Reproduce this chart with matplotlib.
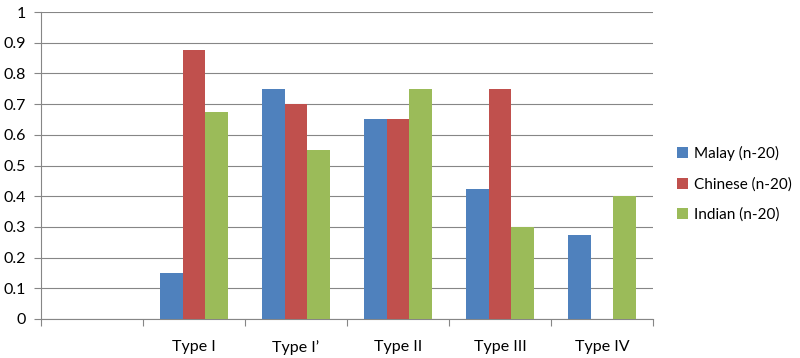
import matplotlib
matplotlib.use("Agg")
import matplotlib.pyplot as plt
import numpy as np

categories = ["", "Type I", "Type I\u2019", "Type II", "Type III", "Type IV"]
series_names = ["Malay (n-20)", "Chinese (n-20)", "Indian (n-20)"]
malay = [0, 0.15, 0.75, 0.65, 0.425, 0.275]
chinese = [0, 0.875, 0.70, 0.65, 0.75, 0]
indian = [0, 0.675, 0.55, 0.75, 0.30, 0.40]
colors = ["#4F81BD", "#C0504D", "#9BBB59"]
yticks = [0, 0.1, 0.2, 0.3, 0.4, 0.5, 0.6, 0.7, 0.8, 0.9, 1]
ytick_labels = ["0", "0.1", "0.2", "0.3", "0.4", "0.5", "0.6", "0.7", "0.8", "0.9", "1"]

plt.rcParams['font.family'] = ['Lato', 'DejaVu Sans']

fig = plt.figure(figsize=(8, 3.58), dpi=100)
ax = fig.add_axes([41/800, 1-319/358, 612/800, 307/358])

x = np.arange(len(categories))
w = 1/4.5
for i, (vals, name, c) in enumerate(zip([malay, chinese, indian], series_names, colors)):
    ax.bar(x + (i-1)*w, vals, width=w, color=c, label=name, zorder=3)

ax.set_xlim(-0.5, len(categories)-0.5)
ax.set_ylim(0, 1)
ax.set_yticks(yticks)
ax.set_yticklabels(ytick_labels)
ax.yaxis.grid(True, color="#868686", lw=0.8, zorder=0)
ax.set_axisbelow(True)

ax.set_xticks(x)
ax.set_xticklabels(categories)
ax.set_xticks(np.arange(-0.5, len(categories)), minor=True)
ax.tick_params(axis='x', which='major', length=0, pad=15, labelsize=11.5, colors='black')
ax.tick_params(axis='x', which='minor', length=5, color='#868686', width=0.8)
ax.tick_params(axis='y', length=5, color='#868686', width=0.8, labelsize=11.5, pad=6)

for s in ['top', 'right']:
    ax.spines[s].set_visible(False)
for s in ['left', 'bottom']:
    ax.spines[s].set_color('#868686')
    ax.spines[s].set_linewidth(0.8)

fig.legend(loc='center left', bbox_to_anchor=(677/800, 1-184/358), frameon=False,
           fontsize=11, handlelength=0.75, handleheight=0.75, handletextpad=0.35,
           labelspacing=1.05, borderpad=0, borderaxespad=0)

fig.savefig("out.png", dpi=100)
